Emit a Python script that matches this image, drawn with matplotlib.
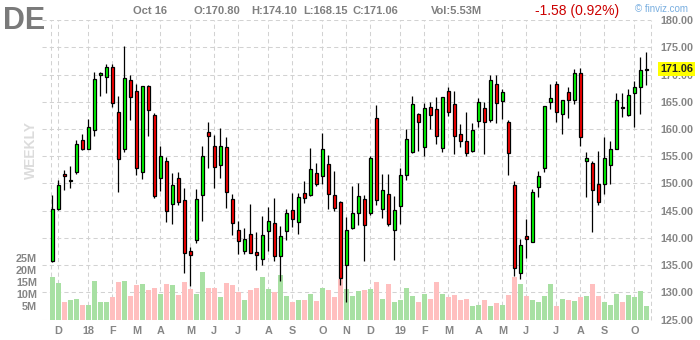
import numpy as np
import pandas as pd
import matplotlib
matplotlib.use("Agg")
import matplotlib.pyplot as plt
from matplotlib.transforms import blended_transform_factory

plt.rcParams['font.family'] = ['Liberation Sans', 'DejaVu Sans']

ticker = "DE"
first_week = "2017-11-20"

opens = [135.74, 145.37, 151.81, 150.52, 152.12, 157.94, 156.41, 159.72, 169.85, 169.60,
         171.32, 163.04, 156.41, 168.93, 166.90, 152.12, 167.82, 162.48, 151.07, 154.20,
         146.29, 151.07, 147.02, 137.64, 139.66, 147.94, 159.36, 156.96, 153.47, 156.78,
         147.21, 141.50, 137.64, 140.77, 137.45, 136.17, 141.32, 142.79, 136.72, 141.32,
         145.18, 142.98, 148.31, 147.94, 152.00, 151.44, 153.65, 147.94, 146.66, 135.06,
         141.87, 144.63, 147.21, 144.63, 161.93, 145.37, 148.13, 141.50, 145.92, 151.63,
         155.86, 162.67, 156.78, 163.96, 163.59, 156.59, 166.90, 164.51, 158.99, 157.88,
         156.04, 161.38, 163.77, 161.56, 168.19, 165.06, 161.20, 149.79, 133.59, 140.40,
         139.29, 149.42, 152.91, 164.88, 168.19, 162.67, 166.72, 165.25, 170.21, 154.20,
         153.83, 149.97, 149.97, 153.47, 156.41, 163.96, 162.48, 166.53, 167.64, 170.80]
highs = [147.82, 150.58, 152.55, 153.28, 157.94, 159.05, 161.75, 170.52, 170.46, 171.93,
         171.93, 166.04, 175.25, 169.91, 168.19, 167.95, 168.13, 162.98, 156.84, 154.82,
         151.87, 152.06, 149.11, 138.37, 148.93, 156.96, 161.26, 158.87, 160.15, 158.50,
         148.01, 143.16, 141.87, 146.17, 141.14, 144.08, 145.61, 147.27, 142.24, 145.37,
         148.31, 148.31, 150.52, 156.59, 153.83, 159.17, 155.31, 152.36, 146.84, 143.90,
         149.60, 150.15, 147.94, 155.12, 164.39, 151.81, 151.81, 147.76, 152.91, 159.91,
         165.98, 162.85, 164.69, 164.88, 165.80, 165.90, 167.64, 166.90, 160.83, 163.04,
         161.01, 165.61, 164.88, 169.85, 169.85, 167.27, 161.56, 150.40, 139.85, 143.53,
         149.05, 152.36, 164.30, 168.19, 168.74, 165.30, 167.64, 170.95, 171.13, 155.86,
         154.20, 156.04, 158.44, 157.70, 166.53, 166.53, 167.27, 168.74, 173.16, 174.10]
lows = [135.60, 145.06, 148.86, 149.17, 151.69, 156.05, 156.30, 158.74, 166.04, 166.66,
        164.08, 148.44, 155.80, 161.63, 151.50, 150.83, 158.74, 147.33, 148.56, 142.85,
        142.55, 146.10, 133.53, 131.07, 139.11, 143.16, 152.91, 149.17, 151.07, 145.55,
        140.52, 137.09, 137.09, 137.20, 134.08, 135.06, 137.58, 135.80, 132.12, 139.66,
        141.99, 140.77, 146.47, 147.76, 149.60, 149.97, 145.37, 145.00, 131.38, 128.25,
        141.69, 142.42, 135.80, 144.26, 146.10, 143.71, 142.24, 135.98, 142.61, 150.71,
        155.67, 156.04, 155.12, 159.91, 157.15, 155.86, 162.30, 155.49, 156.78, 155.12,
        155.86, 160.28, 155.49, 161.20, 161.14, 161.87, 151.56, 132.98, 132.42, 136.29,
        139.20, 147.58, 152.12, 163.59, 161.32, 159.11, 161.93, 164.51, 156.96, 147.58,
        141.14, 146.10, 148.13, 149.97, 156.30, 162.12, 162.40, 160.28, 162.67, 168.15]
closes = [145.37, 149.79, 151.32, 150.70, 157.33, 156.23, 160.28, 169.11, 170.21, 171.32,
          164.69, 154.57, 169.29, 165.92, 152.85, 167.82, 163.53, 147.70, 155.12, 145.00,
          149.79, 146.66, 137.27, 136.90, 147.21, 155.12, 158.62, 153.10, 156.96, 148.50,
          142.79, 139.48, 139.85, 137.27, 136.90, 140.58, 143.16, 136.72, 140.40, 144.63,
          143.53, 147.58, 147.39, 152.73, 149.97, 156.23, 148.13, 145.55, 132.67, 141.50,
          144.63, 147.76, 142.42, 154.75, 147.02, 148.86, 142.61, 145.18, 151.63, 158.07,
          164.51, 161.20, 163.77, 162.48, 158.62, 165.80, 163.04, 158.62, 157.88, 155.67,
          159.72, 164.88, 161.20, 168.93, 164.69, 166.72, 155.67, 134.45, 138.74, 139.85,
          148.50, 151.44, 164.14, 165.61, 163.04, 165.25, 165.25, 170.21, 158.44, 154.75,
          148.86, 146.66, 154.75, 156.41, 165.25, 163.85, 166.17, 167.64, 170.77, 171.06]
volumes = [17.9, 15.4, 7.1, 8.3, 8.75, 6.25, 6.25, 16.25, 7.5, 7.1,
           9.3, 15.8, 16.25, 10.0, 14.2, 15.0, 12.1, 13.3, 10.8, 14.6,
           14.2, 10.4, 15.8, 12.9, 10.8, 20.0, 13.3, 13.3, 9.2, 15.4,
           14.2, 11.5, 8.3, 12.5, 13.3, 17.9, 12.9, 11.5, 18.75, 9.6,
           7.5, 8.3, 8.3, 10.8, 7.9, 13.3, 12.5, 9.2, 16.7, 12.9,
           9.6, 11.7, 12.5, 12.9, 15.8, 8.75, 15.0, 7.5, 8.3, 13.3,
           10.0, 7.1, 10.8, 8.75, 15.8, 10.8, 9.2, 10.4, 8.3, 8.75,
           5.8, 6.25, 8.3, 5.8, 6.7, 6.25, 10.4, 17.9, 14.6, 10.0,
           8.3, 7.1, 10.0, 15.0, 5.8, 8.75, 8.3, 7.9, 9.2, 10.0,
           15.0, 9.6, 7.5, 6.25, 10.8, 7.5, 10.4, 9.2, 11.7, 5.53]

month_labels = ["D", "18", "F", "M", "A", "M", "J", "J", "A", "S", "O", "N",
                "D", "19", "F", "M", "A", "M", "J", "J", "A", "S", "O"]
price_ticks = [125, 130, 135, 140, 145, 150, 155, 160, 165, 170, 175, 180]
vol_ticks = [5, 10, 15, 20, 25]
vol_tick_labels = ["5M", "10M", "15M", "20M", "25M"]

header_date = "Oct 16"
header_vol = "Vol:5.53M"
header_change = "-1.58 (0.92%)"

# ---------------------------------------------------------------
W, H = 700, 340
fig = plt.figure(figsize=(W / 100, H / 100), dpi=100)
L_px, R_px, T_px, B_px = 42, 651, 20.1, 319.5
rect = [L_px / W, 1 - B_px / H, (R_px - L_px) / W, (B_px - T_px) / H]
axv = fig.add_axes(rect)
ax = fig.add_axes(rect, sharex=axv)
ax.patch.set_visible(False)

n = len(opens)
x = np.arange(n)
o = np.array(opens); c = np.array(closes)
hi = np.array(highs); lo = np.array(lows)
up = c >= o

x_left = -1.72
x_right = 99.78
ax.set_xlim(x_left, x_right)
ax.set_ylim(125, 180)
axv.set_ylim(0, 124.75)

grid_kw = dict(color='#d2d2d2', linewidth=0.75, linestyle=(0, (4, 3)))

# month tick positions: week containing 1st of each month
weeks = pd.date_range(first_week, periods=n, freq="W-MON")
month_starts = pd.date_range("2017-12-01", periods=len(month_labels), freq="MS")
month_pos = [(ms - weeks[0]).days // 7 for ms in month_starts]

# grid (drawn on bottom axes so it stays behind volume bars)
ytr = ax.get_yaxis_transform()
for p in price_ticks:
    axv.plot([0, 1], [p, p], transform=ytr, zorder=0, **grid_kw)
for mp in month_pos:
    axv.axvline(mp, zorder=0, **grid_kw)
axv.axvline(-0.27, zorder=0, **grid_kw)
axv.axvline(x_right - 0.02, zorder=0, clip_on=False, **grid_kw)

# volume bars
vcolors = np.where(up, '#a8e0a3', '#ffbfbf')
axv.bar(x, volumes, width=0.85, color=vcolors, linewidth=0, zorder=2)

# candles
ax.vlines(x, lo, hi, color='black', linewidth=0.9, zorder=2)
body_h = np.maximum(np.abs(c - o), 0.06)
body_b = np.minimum(o, c)
ccolors = np.where(up, '#00ff00', '#ff0000')
ax.bar(x, body_h, bottom=body_b, width=0.6, color=ccolors,
       edgecolor='black', linewidth=0.9, zorder=3)

for s in list(ax.spines.values()) + list(axv.spines.values()):
    s.set_visible(False)

lab_kw = dict(fontsize=7.8, fontweight='bold', color='#868686')

# price axis on right
ax.yaxis.tick_right()
ax.set_yticks(price_ticks)
ax.set_yticklabels([f"{p:.2f}" for p in price_ticks], **lab_kw)
ax.tick_params(axis='y', length=0, pad=6.5)
for t in ax.get_yticklabels():
    t.set_horizontalalignment('left')

# month ticks
ax.set_xticks(month_pos)
ax.set_xticklabels(month_labels, **lab_kw)
ax.tick_params(axis='x', length=0, pad=4.5)
axv.tick_params(axis='x', bottom=False, labelbottom=False)
axv.set_yticks([])

# volume labels on the left
vtr = blended_transform_factory(axv.transAxes, axv.transData)
for v, lab in zip(vol_ticks, vol_tick_labels):
    axv.text(-5 / (R_px - L_px), v, lab, transform=vtr, ha='right', va='center',
             clip_on=False, **lab_kw)

# last price box
ax.text((660 - L_px) / (R_px - L_px), closes[-1], f"{closes[-1]:.2f}",
        transform=ytr, ha='left', va='center', fontsize=7.8, fontweight='bold',
        color='#222222', clip_on=False, zorder=10,
        bbox=dict(boxstyle='square,pad=0.18', fc='#ffff00', ec='none'))

# header
def fx(px): return px / W
def fy(py): return 1 - py / H

fig.text(fx(3), fy(29.3), ticker, fontsize=22, fontweight='bold', color='#7a7a7a', va='baseline')
hdr_kw = dict(fontsize=8, fontweight='bold', color='#7f7f7f', va='baseline')
fig.text(fx(133), fy(14), header_date, **hdr_kw)
fig.text(fx(194), fy(14), f"O:{opens[-1]:.2f}", **hdr_kw)
fig.text(fx(251.7), fy(14), f"H:{highs[-1]:.2f}", **hdr_kw)
fig.text(fx(303.3), fy(14), f"L:{lows[-1]:.2f}", **hdr_kw)
fig.text(fx(352.7), fy(14), f"C:{closes[-1]:.2f}", **hdr_kw)
fig.text(fx(431), fy(14), header_vol, **hdr_kw)
fig.text(fx(535), fy(15), header_change, fontsize=10, color='#cc0000', va='baseline')
fig.text(fx(635), fy(11.5), "© finviz.com", fontsize=7, color='#78aee0', va='baseline')
fig.text(fx(31), fy(150), "WEEKLY", rotation=90, ha='center', va='center',
         fontsize=10, fontweight='bold', color='#dcdcdc')

fig.savefig("out.png", dpi=100)
